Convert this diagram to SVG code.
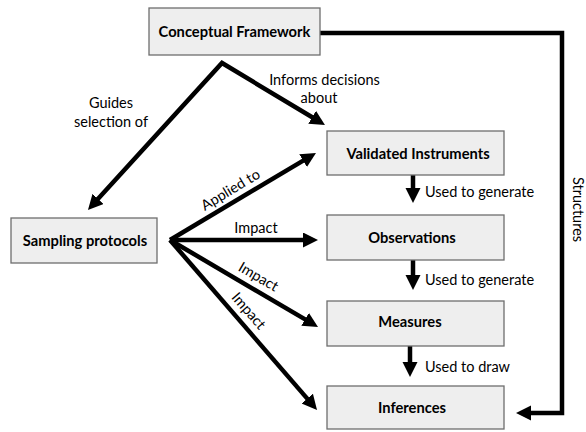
<svg xmlns="http://www.w3.org/2000/svg" width="586" height="432" viewBox="0 0 586 432">
<style>
.box{fill:#eeeeee;stroke:#6e6e6e;stroke-width:1.3}
.nt{font-family:Lato,"Open Sans",sans-serif;font-weight:bold;font-size:14.7px;fill:#000;text-anchor:middle}
.lt{font-family:Lato,"Open Sans",sans-serif;font-size:14.5px;fill:#000}
.c{fill:none;stroke:#000;stroke-width:4.5;stroke-linejoin:miter;stroke-miterlimit:10}
</style>
<defs>
<marker id="ah" markerUnits="userSpaceOnUse" markerWidth="16" markerHeight="16" refX="5" refY="7.5" orient="auto-start-reverse">
<path d="M0,0 L15,7.5 L0,15 z" fill="#000"/>
</marker>
</defs>
<rect width="586" height="432" fill="#fff"/>
<g id="connectors">
<path class="c" d="M94.7,202.6 L222,63 L316.4,119.8" marker-start="url(#ah)" marker-end="url(#ah)"/>
<path class="c" d="M170,240 L307.4,158.1" marker-end="url(#ah)"/>
<path class="c" d="M170,240 L308,240" marker-end="url(#ah)"/>
<path class="c" d="M170,240 L309.4,321.9" marker-end="url(#ah)"/>
<path class="c" d="M170,240 L310.5,402.4" marker-end="url(#ah)"/>
<path class="c" d="M413,175 L413,193" marker-end="url(#ah)"/>
<path class="c" d="M413,260 L413,280" marker-end="url(#ah)"/>
<path class="c" d="M410,346 L410,367" marker-end="url(#ah)"/>
<path class="c" d="M320,33 L562,33 L562,413 L526,413" marker-end="url(#ah)"/>
<text class="lt" x="111" y="108" text-anchor="middle">Guides</text>
<text class="lt" x="111" y="127" text-anchor="middle">selection of</text>
<text class="lt" x="324.5" y="85" text-anchor="middle">Informs decisions</text>
<text class="lt" x="319" y="103" text-anchor="middle">about</text>
<text class="lt" text-anchor="middle" transform="translate(233,194) rotate(-31)">Applied to</text>
<text class="lt" x="256" y="233" text-anchor="middle">Impact</text>
<text class="lt" text-anchor="middle" transform="translate(256,281) rotate(30.4)">Impact</text>
<text class="lt" text-anchor="middle" transform="translate(245,314) rotate(49)">Impact</text>
<text class="lt" x="425" y="197">Used to generate</text>
<text class="lt" x="425" y="285">Used to generate</text>
<text class="lt" x="425" y="372">Used to draw</text>
<text class="lt" text-anchor="middle" transform="translate(573,209.5) rotate(90)">Structures</text>
</g>
<g id="conceptual-framework">
<rect class="box" x="149" y="8" width="171" height="47"/>
<text class="nt" x="234.5" y="37">Conceptual Framework</text>
</g>
<g id="sampling-protocols">
<rect class="box" x="11" y="218" width="146" height="45"/>
<text class="nt" x="85" y="246">Sampling protocols</text>
</g>
<g id="validated-instruments">
<rect class="box" x="327" y="131" width="177" height="44"/>
<text class="nt" x="418" y="159">Validated Instruments</text>
</g>
<g id="observations">
<rect class="box" x="327" y="215" width="177" height="45"/>
<text class="nt" x="412" y="243">Observations</text>
</g>
<g id="measures">
<rect class="box" x="327" y="301" width="177" height="45"/>
<text class="nt" x="410" y="327">Measures</text>
</g>
<g id="inferences">
<rect class="box" x="327" y="386" width="177" height="43"/>
<text class="nt" x="412" y="413">Inferences</text>
</g>
</svg>
